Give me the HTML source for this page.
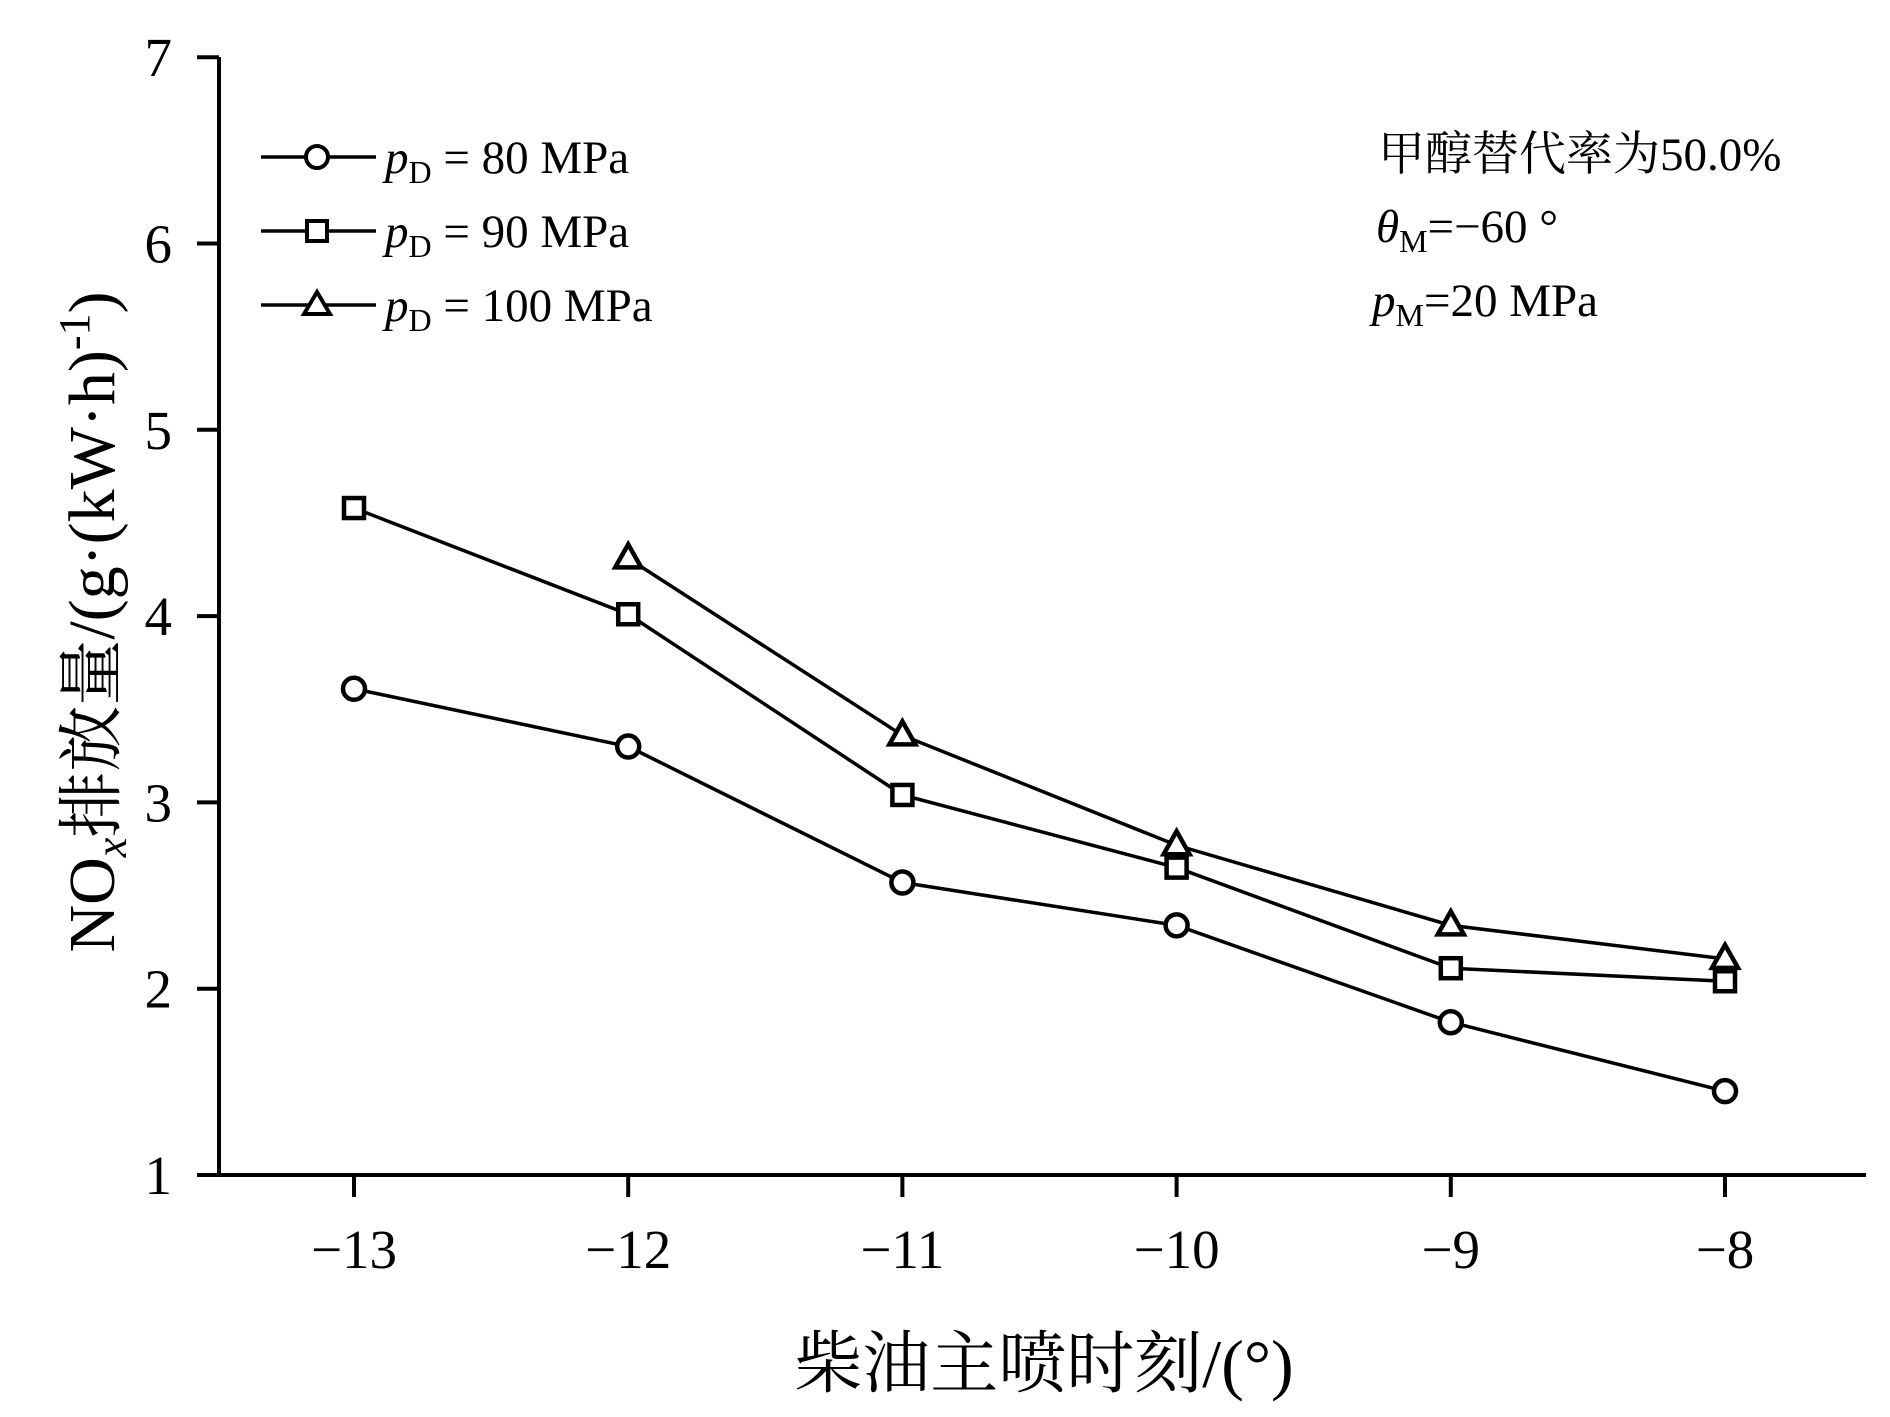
<!DOCTYPE html>
<html><head><meta charset="utf-8"><style>
html,body{margin:0;padding:0;background:#fff;}
svg{display:block;font-family:"Liberation Serif","Noto Serif CJK SC",serif;}
</style></head><body>
<svg id="chart" width="1890" height="1417" viewBox="0 0 1890 1417" xmlns="http://www.w3.org/2000/svg">
<g id="axes"></g>
<g id="series"></g>
<g id="legend" font-size="47">
  <line x1="261" y1="157" x2="376" y2="157" stroke="#000" stroke-width="3.5"/>
  <circle cx="317" cy="157" r="11" fill="#fff" stroke="#000" stroke-width="4"/>
  <text x="385" y="173"><tspan font-style="italic">p</tspan><tspan font-size="32" dy="10">D</tspan><tspan dy="-10"> = 80 MPa</tspan></text>
  <line x1="261" y1="231" x2="376" y2="231" stroke="#000" stroke-width="3.5"/>
  <rect x="307" y="221" width="20" height="20" fill="#fff" stroke="#000" stroke-width="4"/>
  <text x="385" y="247"><tspan font-style="italic">p</tspan><tspan font-size="32" dy="10">D</tspan><tspan dy="-10"> = 90 MPa</tspan></text>
  <line x1="261" y1="305" x2="376" y2="305" stroke="#000" stroke-width="3.5"/>
  <polygon points="317,292 330,314 304,314" fill="#fff" stroke="#000" stroke-width="4"/>
  <text x="385" y="321"><tspan font-style="italic">p</tspan><tspan font-size="32" dy="10">D</tspan><tspan dy="-10"> = 100 MPa</tspan></text>
</g>
<g font-size="47">
  <text x="1378" y="170">甲醇替代率为50.0%</text>
  <text x="1376" y="242"><tspan font-style="italic">θ</tspan><tspan font-size="32" dy="10">M</tspan><tspan dy="-10">=−60 °</tspan></text>
  <text x="1372" y="316"><tspan font-style="italic">p</tspan><tspan font-size="32" dy="10">M</tspan><tspan dy="-10">=20 MPa</tspan></text>
</g>
<text x="1044" y="1387" font-size="68" text-anchor="middle">柴油主喷时刻/(°)</text>
<text transform="translate(114,622) rotate(-90)" font-size="66" text-anchor="middle">NO<tspan font-style="italic" font-size="44" dy="12">x</tspan><tspan dy="-12">排放量/(g·(kW·h)</tspan><tspan font-size="44" dy="-25">-1</tspan><tspan dy="25">)</tspan></text>
</svg>
<script>
const categories = [-13, -12, -11, -10, -9, -8];
const xTickLabels = ["−13", "−12", "−11", "−10", "−9", "−8"];
const yTicks = [1, 2, 3, 4, 5, 6, 7];
const series80 = [3.61, 3.30, 2.57, 2.34, 1.82, 1.45];
const series90 = [4.58, 4.01, 3.04, 2.65, 2.11, 2.04];
const series100 = [null, 4.31, 3.36, 2.77, 2.34, 2.16];

const NS = "http://www.w3.org/2000/svg";
const xScale = v => 354 + (v - (-13)) * 274.2;
const yScale = v => 1175 - (v - 1) * 186.3;
function mk(tag, attrs, parent) {
  const e = document.createElementNS(NS, tag);
  for (const k in attrs) e.setAttribute(k, attrs[k]);
  parent.appendChild(e);
  return e;
}
const axes = document.getElementById('axes');
const yAxis = mk('line', {x1: 219, y1: 57, x2: 219, y2: 1176, stroke: '#000', 'stroke-width': 4}, axes);


const xAxis = mk('line', {x1: 217, y1: 1175, x2: 1866, y2: 1175, stroke: '#000', 'stroke-width': 4}, axes);


yTicks.forEach(v => {
  const y = yScale(v);
  const t = mk('line', {x1: 197, y1: y, x2: 219, y2: y, stroke: '#000', 'stroke-width': 4}, axes);
  
  
  const l = mk('text', {x: 172, y: y + 19, 'font-size': 55, 'text-anchor': 'end'}, axes);
  
  
  l.textContent = v;
});
categories.forEach((c, i) => {
  const x = xScale(c);
  const t = mk('line', {x1: x, y1: 1175, x2: x, y2: 1197, stroke: '#000', 'stroke-width': 4}, axes);
  
  
  const l = mk('text', {x: x, y: 1268, 'font-size': 55, 'text-anchor': 'middle'}, axes);
  
  
  l.textContent = xTickLabels[i];
});
const sg = document.getElementById('series');
function drawSeries(vals, marker, name) {
  const g = mk('g', {}, sg);
  
  
  const pts = [];
  vals.forEach((v, i) => { if (v !== null) pts.push([xScale(categories[i]), yScale(v)]); });
  const pl = mk('polyline', {points: pts.map(p => p.join(',')).join(' '), fill: 'none', stroke: '#000', 'stroke-width': 3.5}, g);
  
  
  pts.forEach(([x, y]) => {
    let m;
    if (marker === 'circle') m = mk('circle', {cx: x, cy: y, r: 11, fill: '#fff', stroke: '#000', 'stroke-width': 4.5}, g);
    else if (marker === 'square') m = mk('rect', {x: x - 10, y: y - 10, width: 20, height: 20, fill: '#fff', stroke: '#000', 'stroke-width': 4.5}, g);
    else m = mk('polygon', {points: `${x},${y - 14} ${x + 13},${y + 9} ${x - 13},${y + 9}`, fill: '#fff', stroke: '#000', 'stroke-width': 4.5}, g);
    
    
  });
}
drawSeries(series80, 'circle', 'series-80mpa');
drawSeries(series90, 'square', 'series-90mpa');
drawSeries(series100, 'triangle', 'series-100mpa');
</script>
</body></html>
